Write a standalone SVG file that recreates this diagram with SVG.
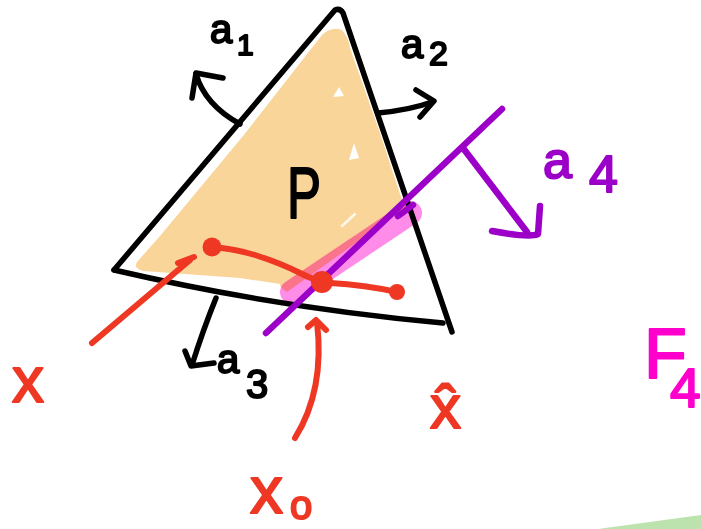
<svg xmlns="http://www.w3.org/2000/svg" width="701" height="529" viewBox="0 0 701 529">
<style>
.ink{fill:none;stroke:#000;stroke-width:5.5;stroke-linecap:round;stroke-linejoin:round}
.red{fill:none;stroke:#EE3824;stroke-width:6;stroke-linecap:round;stroke-linejoin:round}
.pur{fill:none;stroke:#9C00C8;stroke-width:6.5;stroke-linecap:round;stroke-linejoin:round}
.lbl{font-family:"Liberation Sans",Arial,sans-serif;stroke-width:2;stroke-linejoin:round}
.k{fill:#000;stroke:#000}
.r{fill:#EE3824;stroke:#EE3824}
.p{fill:#9C00C8;stroke:#9C00C8}
.m{fill:#FF00CC;stroke:#FF00CC}
</style>
<rect width="701" height="529" fill="#fff"/>
<polygon points="598,529 701,515 701,529" fill="#BCE3AE"/>
<g id="region-P">
<path d="M322,35 Q332,26 342,30 Q349,38 350,48 L380,133 L401,197 L408,206 L287,292 Q279,287 280,284 L240,278 L143,271 Q133,268 137,262 L160,236 L243,136 Z" fill="#FAD59A"/>
<polygon points="333,97 339,87 344,96" fill="#fff"/>
<polygon points="349,160 354,143 359,158" fill="#fff"/>
<path d="M342,226 L355,214" stroke="#fff" stroke-width="2.5" stroke-linecap="round" opacity="0.8"/>
<path d="M292,292 L410,213" stroke="#FF8CE8" stroke-width="24" stroke-linecap="round" style="mix-blend-mode:multiply"/>
<path class="ink" d="M114,270 L335,10 Q340,8 343,13 L452,332"/>
<path class="ink" d="M114,270 Q278,308 443,323"/>
<text class="lbl k" x="287" y="218" font-size="72" textLength="34" lengthAdjust="spacingAndGlyphs">P</text>
</g>
<g id="connectors">
<path class="ink" d="M240,124 Q205,105 196,74"/>
<path class="ink" d="M192,98 L196,73 L223,78"/>
<path class="ink" d="M378,113 Q410,110 432,102"/>
<path class="ink" d="M416,90 L434,101 L420,117"/>
<path class="ink" d="M216,298 Q203,330 192,365"/>
<path class="ink" d="M185,351 L191,366 L214,363"/>
<path class="pur" d="M266,333 L502,109"/>
<path class="pur" d="M398,216 L413,205" stroke-width="20"/>
<path class="pur" d="M463,148 L527,232"/>
<path class="pur" d="M492,231 Q530,238 538,234 L540,206"/>
<path class="red" d="M212,247 Q235,249 255,255 Q280,263 300,273 Q315,281 330,283 Q365,285 397,292"/>
<circle cx="212" cy="247" r="9.5" fill="#EE3824"/>
<circle cx="322" cy="282" r="11" fill="#EE3824"/>
<circle cx="397" cy="292" r="8" fill="#EE3824"/>
<path class="red" d="M92,343 L190,260"/>
<path class="red" d="M178,263 L194,257"/>
<path class="red" d="M295,438 Q325,390 317,322"/>
<path class="red" d="M308,327 L316,320 L326,330"/>
</g>
<g id="label-a1"><text class="lbl k" x="210" y="43" font-size="40">a<tspan x="237" y="55" font-size="30">1</tspan></text></g>
<g id="label-a2"><text class="lbl k" x="401" y="58" font-size="40">a<tspan x="429" y="65" font-size="34">2</tspan></text></g>
<g id="label-a3"><text class="lbl k" x="217" y="373" font-size="40">a<tspan x="246" y="398" font-size="40">3</tspan></text></g>
<g id="label-a4"><text class="lbl p" x="543" y="178" font-size="52">a<tspan x="589" y="192" font-size="52">4</tspan></text></g>
<g id="label-F4"><text class="lbl m" x="644" y="378" font-size="70">F<tspan x="670" y="407" font-size="55">4</tspan></text></g>
<g id="label-x"><text class="lbl r" x="12" y="402" font-size="64">x</text></g>
<g id="label-x0"><text class="lbl r" x="250" y="513" font-size="66">x<tspan x="290" y="519" font-size="40">o</tspan></text></g>
<g id="label-xhat"><text class="lbl r" x="430" y="428" font-size="62">x̂</text></g>
</svg>
